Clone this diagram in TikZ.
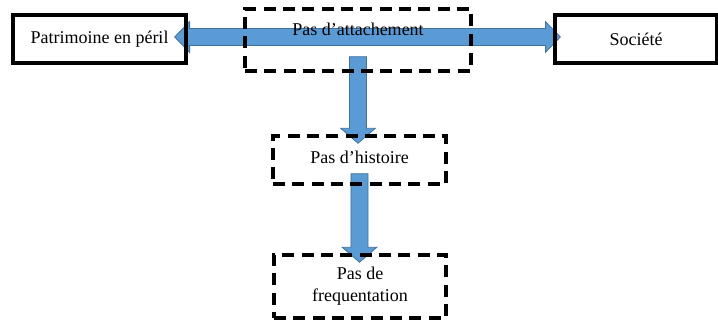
\documentclass[tikz,border=0pt]{standalone}
\usepackage{fontspec}
\setmainfont{Liberation Serif}
\usetikzlibrary{calc,backgrounds}

\definecolor{arrowblue}{HTML}{5B9BD5}
\definecolor{edgeblue}{HTML}{41719C}

\begin{document}
\begin{tikzpicture}[x=0.75pt, y=-0.75pt,
  every node/.style={font=\fontsize{13.5}{16.5}\selectfont, inner sep=0pt},
  solidbox/.style={draw, line width=2.4pt, minimum height=36pt},
  dashbox/.style={draw, line width=2.6pt, dash pattern=on 9pt off 5.5pt},
  blockarrow/.style={fill=arrowblue, draw=edgeblue, line width=0.6pt}]

\useasboundingbox (0,0) rectangle (718,323);

\node[solidbox, minimum width=129.75pt] (patrimoine) at (99.5,39) {Patrimoine en péril};
\node[solidbox, minimum width=121.5pt] (societe) at (636,39) {Société};
\node[dashbox, minimum width=169.5pt, minimum height=46.5pt,
  text height=9pt, text depth=15pt] (attachement) at (358,40) {Pas d’attachement};
\node[dashbox, minimum width=129.75pt, minimum height=36pt,
  text height=9pt, text depth=4pt] (histoire) at (359.5,160) {Pas d’histoire};
\node[dashbox, minimum width=129pt, minimum height=47.25pt, align=center]
  (frequentation) at (360,286.5) {Pas de\\frequentation};

% arrow ends
\coordinate (pl) at ([xshift=-9.75pt, yshift=1.5pt]patrimoine.east);
\coordinate (sr) at ([xshift=5.25pt, yshift=1.5pt]societe.west);
\coordinate (a1) at ([yshift=12pt]attachement.south);
\coordinate (h1) at ([yshift=-6.75pt]histoire.north);
\coordinate (h2) at ([yshift=9pt]histoire.south);
\coordinate (f1) at ([yshift=-6.75pt]frequentation.north);

\begin{scope}[on background layer]
\draw[blockarrow] let \p1=(pl), \p2=(sr) in
  (\x1,\y1) -- (\x1+11.25pt,\y1+11.5pt) -- (\x1+11.25pt,\y1+6.4pt)
  -- (\x2-11.25pt,\y1+6.4pt) -- (\x2-11.25pt,\y1+11.5pt) -- (\x2,\y1)
  -- (\x2-11.25pt,\y1-11.5pt) -- (\x2-11.25pt,\y1-6.4pt)
  -- (\x1+11.25pt,\y1-6.4pt) -- (\x1+11.25pt,\y1-11.5pt) -- cycle;
\foreach \s/\t in {a1/h1, h2/f1}
  \draw[blockarrow] let \p1=(\s), \p2=(\t) in
    (\x1-6.4pt,\y1) -- (\x1+6.4pt,\y1) -- (\x1+6.4pt,\y2+11.25pt)
    -- (\x1+13pt,\y2+11.25pt) -- (\x1,\y2) -- (\x1-13pt,\y2+11.25pt)
    -- (\x1-6.4pt,\y2+11.25pt) -- cycle;
\end{scope}
\end{tikzpicture}
\end{document}
